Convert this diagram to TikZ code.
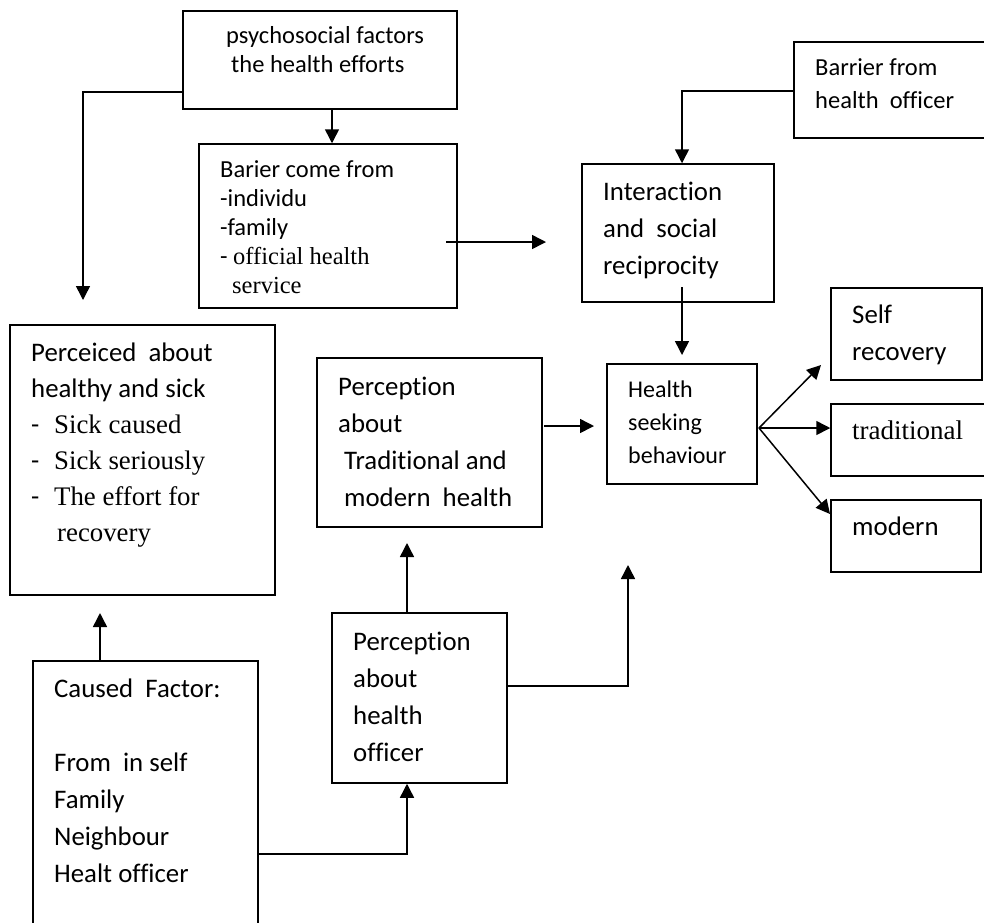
\documentclass[tikz,border=0pt]{standalone}
\usepackage{fontspec}
\setmainfont{Carlito}[Ligatures=NoCommon]
\newfontfamily\tnr{Liberation Serif}[Ligatures=NoCommon]
\usetikzlibrary{arrows.meta}
\newcommand\fl{\rule{0pt}{0.78em}}
\tikzset{
  box/.style={draw, line width=1.5pt, inner sep=0pt, fill=none},
  txt/.style={anchor=north west, inner sep=0pt, align=left},
  arr/.style={line width=1.5pt, -{Triangle[width=14pt,length=14pt]}},
  fA/.style={font=\fontsize{26.8}{37}\selectfont},
  fB/.style={font=\fontsize{24.5}{29}\selectfont},
}
\begin{document}
\begin{tikzpicture}[x=1pt,y=-1pt]
\clip (0,0) rectangle (984,922);
\fill[white] (0,0) rectangle (984,922);
% boxes
\node[box, minimum width=274, minimum height=98] (psy) at (320,60) {};
\node[box, minimum width=258, minimum height=164] (bar) at (328,226) {};
\node[box, minimum width=196, minimum height=96] (bho) at (892,90) {};
\node[box, minimum width=192, minimum height=138] (int) at (678,233) {};
\node[box, minimum width=150, minimum height=120] (hsb) at (682,424) {};
\node[box, minimum width=151, minimum height=92] (self) at (906.5,334) {};
\node[box, minimum width=159, minimum height=72] (trad) at (910.5,440) {};
\node[box, minimum width=150, minimum height=72] (mod) at (906,536) {};
\node[box, minimum width=265, minimum height=270] (per) at (142.5,460) {};
\node[box, minimum width=225, minimum height=169] (ptm) at (429.5,442.5) {};
\node[box, minimum width=175, minimum height=170] (pho) at (419.5,698) {};
\node[box, minimum width=225, minimum height=274] (cau) at (145.5,798) {};
% texts
\node[txt, fB] (tpsy) at (226,{43-0.78*24.5}) {\fl psychosocial factors\\\hspace*{5pt}the health efforts};
\node[txt, fB] (tbar) at (220,{177-0.78*24.5}) {\fl Barier come from\\-individu\\-family\\- {\tnr official health}\\\hspace*{12pt}{\tnr service}};
\node[txt, font=\fontsize{24.5}{33}\selectfont] (tbho) at (815,{75-0.78*24.5}) {\fl Barrier from\\health\ \ officer};
\node[txt, fA] (tint) at (603,{200-0.78*26.8}) {\fl Interaction\\and\ \ social\\reciprocity};
\node[txt, font=\fontsize{24}{33}\selectfont] (thsb) at (628,{397-0.78*24}) {\fl Health\\seeking\\behaviour};
\node[txt, fA] (tself) at (852,{323-0.78*26.8}) {\fl Self\\recovery};
\node[txt, font=\fontsize{27}{37}\selectfont\tnr] (ttrad) at (852,{439-0.78*27}) {\fl traditional};
\node[txt, fA] (tmod) at (852,{535-0.78*26.8}) {\fl modern};
\node[txt, font=\fontsize{26.8}{36}\selectfont] (tper) at (31,{361-0.78*26.8}) {\fl Perceiced\ \ about\\healthy and sick\\\makebox[23pt][l]{-}{\tnr Sick caused}\\\makebox[23pt][l]{-}{\tnr Sick seriously}\\\makebox[23pt][l]{-}{\tnr The effort for}\\\hspace*{26pt}{\tnr recovery}};
\node[txt, fA] (tptm) at (338,{395-0.78*26.8}) {\fl Perception\\about\\\hspace*{6pt}Traditional and\\\hspace*{6pt}modern\ \ health};
\node[txt, fA] (tpho) at (353,{650-0.78*26.8}) {\fl Perception\\about\\health\\officer};
\node[txt, fA] (tcau) at (54,{697-0.78*26.8}) {\fl Caused\ \ Factor:\\\mbox{}\\From\ \ in self\\Family\\Neighbour\\Healt officer};
% coordinates
\coordinate (c1) at (83,92);
\coordinate (e1) at (83,300);
\coordinate (s2) at (446,242);
\coordinate (e2) at (546,242);
\coordinate (c3) at (682,91);
\coordinate (s4) at (682,287);
\coordinate (e4) at (682,355);
\coordinate (s5) at (544,426);
\coordinate (e5) at (594,426);
\coordinate (fan) at (759,428);
\coordinate (e6) at (821,365);
\coordinate (e8) at (830,514);
\coordinate (e9) at (100,613);
\coordinate (c10) at (407,854);
\coordinate (e11) at (407,543);
\coordinate (c12) at (628,686);
\coordinate (e12) at (628,565);
% connectors
\draw[arr] (psy.west |- c1) -- (c1) -- (e1);
\draw[arr] (psy.south -| 332,0) -- (bar.north -| 332,0);
\draw[arr] (s2) -- (e2);
\draw[arr] (bho.west |- c3) -- (c3) -- (int.north -| c3);
\draw[arr] (s4) -- (e4);
\draw[arr] (s5) -- (e5);
\draw[arr] (fan) -- (e6);
\draw[arr] (fan) -- (trad.west |- fan);
\draw[arr] (fan) -- (e8);
\draw[arr] (cau.north -| e9) -- (e9);
\draw[arr] (cau.east |- c10) -- (c10) -- (pho.south -| c10);
\draw[arr] (pho.north -| e11) -- (e11);
\draw[arr] (pho.east |- c12) -- (c12) -- (e12);
\end{tikzpicture}
\end{document}
